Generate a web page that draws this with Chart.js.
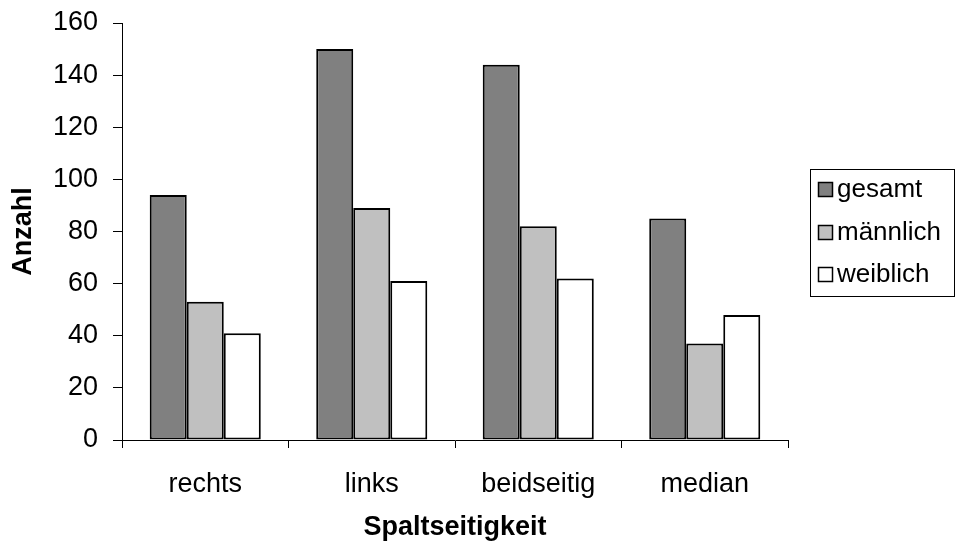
<!DOCTYPE html>
<html>
<head>
<meta charset="utf-8">
<script src="https://cdn.jsdelivr.net/npm/chart.js@4/dist/chart.umd.min.js"></script>
<style>
  html, body { margin: 0; padding: 0; background: #fff; }
  #wrap { width: 956px; height: 545px; position: relative; }
</style>
</head>
<body>
<div id="wrap"><canvas id="c" width="956" height="545"></canvas></div>
<script>
const categories = ["rechts", "links", "beidseitig", "median"];
const seriesNames = ["gesamt", "männlich", "weiblich"];
const gesamt = [94, 150, 144, 85];
const maennlich = [53, 89, 82, 37];
const weiblich = [41, 61, 62, 48];
const yTicks = [0, 20, 40, 60, 80, 100, 120, 140, 160];
const xTitle = "Spaltseitigkeit";
const yTitle = "Anzahl";

const colors = ["#808080", "#c0c0c0", "#ffffff"];
const FONT = "'Liberation Sans', Arial, sans-serif";

const legendBox = {
  id: 'legendBox',
  afterDraw(chart) {
    const ctx = chart.ctx;
    ctx.save();
    ctx.strokeStyle = '#000';
    ctx.lineWidth = 1;
    ctx.strokeRect(810.5, 169.5, 144, 127);
    ctx.font = "26px " + FONT;
    ctx.textBaseline = 'alphabetic';
    ctx.textAlign = 'left';
    const baselines = [197, 240, 282];
    chart.data.datasets.forEach((ds, i) => {
      const b = baselines[i];
      ctx.fillStyle = ds.backgroundColor;
      ctx.fillRect(818, b - 15, 15, 15);
      ctx.lineWidth = 1.5;
      ctx.strokeStyle = '#000';
      ctx.strokeRect(818.5, b - 14.5, 14, 14);
      ctx.fillStyle = '#000';
      ctx.fillText(ds.label, 837, b);
    });
    ctx.restore();
  }
};

new Chart(document.getElementById('c'), {
  type: 'bar',
  data: {
    labels: categories,
    datasets: [
      { label: seriesNames[0], data: gesamt, backgroundColor: colors[0] },
      { label: seriesNames[1], data: maennlich, backgroundColor: colors[1] },
      { label: seriesNames[2], data: weiblich, backgroundColor: colors[2] }
    ].map(d => Object.assign(d, { borderColor: '#000', borderWidth: 2, borderSkipped: false }))
  },
  options: {
    responsive: false,
    animation: false,
    devicePixelRatio: 1,
    categoryPercentage: 0.667,
    barPercentage: 1,
    layout: { padding: { top: 23, right: 168, bottom: 0, left: 0 } },
    plugins: {
      legend: { display: false },
      tooltip: { enabled: false }
    },
    scales: {
      x: {
        offset: true,
        grid: { display: true, drawOnChartArea: false, drawTicks: true, tickLength: 8, offset: true, color: '#000' },
        border: { display: true, color: '#000', width: 1 },
        ticks: { color: '#000', font: { family: FONT, size: 27 }, padding: 20, maxRotation: 0 },
        title: { display: true, text: xTitle, color: '#000', font: { family: FONT, size: 27, weight: 'bold' }, padding: { top: 0, bottom: 1 } },
        afterFit(scale) { scale.height = 105; scale.paddingLeft = 0; scale.paddingRight = 0; }
      },
      y: {
        min: 0, max: 160,
        afterBuildTicks(scale) { scale.ticks = yTicks.map(v => ({ value: v })); },
        grid: { display: true, drawOnChartArea: false, drawTicks: true, tickLength: 9, color: '#000' },
        border: { display: true, color: '#000', width: 1 },
        ticks: { color: '#000', font: { family: FONT, size: 27 }, padding: 15 },
        title: { display: true, text: yTitle, color: '#000', font: { family: FONT, size: 27, weight: 'bold' }, padding: { top: 7, bottom: 0 } },
        afterFit(scale) { scale.width = 122; scale.paddingTop = 0; scale.paddingBottom = 0; }
      }
    }
  },
  plugins: [legendBox]
});
</script>
</body>
</html>
